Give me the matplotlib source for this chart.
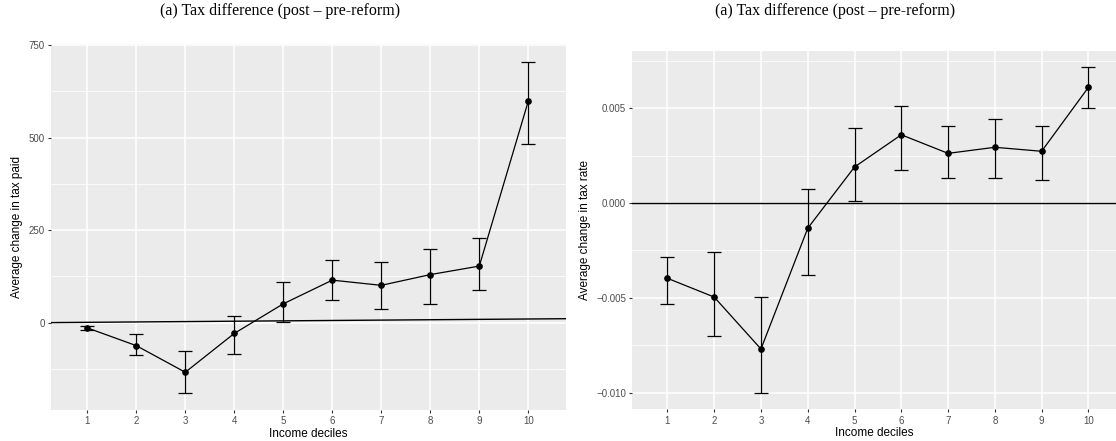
import numpy as np
import matplotlib
matplotlib.use('Agg')
import matplotlib.pyplot as plt
from matplotlib.ticker import MultipleLocator

deciles = [1, 2, 3, 4, 5, 6, 7, 8, 9, 10]

# panel 1: average change in tax paid
paid_mean = [-14, -62, -134, -29, 51, 115, 101, 130, 153, 599]
paid_lo = [-19, -87, -190, -84, 1, 60, 38, 51, 89, 482]
paid_hi = [-9, -30, -76, 19, 109, 169, 163, 200, 229, 706]

# panel 2: average change in tax rate
rate_mean = [-0.00397, -0.00496, -0.0077, -0.00133, 0.0019, 0.0036, 0.00262, 0.00294, 0.00273, 0.0061]
rate_lo = [-0.00534, -0.0070, -0.01004, -0.0038, 0.00009, 0.00172, 0.0013, 0.00133, 0.0012, 0.005]
rate_hi = [-0.00283, -0.00257, -0.00496, 0.00072, 0.00394, 0.00512, 0.00408, 0.00445, 0.00408, 0.00717]

title = "(a) Tax difference (post \u2013 pre-reform)"

fig = plt.figure(figsize=(11.16, 4.41), dpi=100)
ax1 = fig.add_axes([0.0457, 0.0703, 0.4615, 0.8288])
ax2 = fig.add_axes([0.5666, 0.0719, 0.4334, 0.8125])


def style(ax, major, minor):
    ax.set_facecolor('#EBEBEB')
    for s in ax.spines.values():
        s.set_visible(False)
    ax.yaxis.set_major_locator(MultipleLocator(major))
    ax.yaxis.set_minor_locator(MultipleLocator(minor))
    ax.set_xticks(deciles)
    ax.grid(which='major', color='white', linewidth=1.1, zorder=0)
    ax.grid(which='minor', axis='y', color='white', linewidth=0.55, zorder=0)
    ax.set_axisbelow(True)
    ax.tick_params(axis='both', which='major', length=2.5, width=0.8, color='#333333',
                   labelsize=7, labelcolor='#4D4D4D', pad=2,
                   labelfontfamily='Liberation Sans')
    ax.tick_params(axis='both', which='minor', length=0)
    ax.set_xlabel("Income deciles", fontsize=8.5, family='Liberation Sans', labelpad=1)


def draw(ax, mean, lo, hi):
    m = np.array(mean)
    yerr = [m - np.array(lo), np.array(hi) - m]
    ax.errorbar(deciles, mean, yerr=yerr, color='black', linewidth=0.9,
                elinewidth=0.9, capsize=5, capthick=0.9, marker='o',
                markersize=3.8, zorder=3)


# left panel
style(ax1, 250, 125)
draw(ax1, paid_mean, paid_lo, paid_hi)
ax1.set_xlim(0.26, 10.77)
ax1.set_ylim(-236, 752)
xx = np.array(ax1.get_xlim())
ax1.plot(xx, xx, color='black', linewidth=1.0, zorder=2)  # abline y = x
ax1.set_yticks([0, 250, 500, 750])
ax1.set_ylabel("Average change in tax paid", fontsize=8.5, family='Liberation Sans', labelpad=4)
fig.text(0.251, 0.975, title, ha='center', va='center', fontsize=11.5, family='Liberation Serif')

# right panel
style(ax2, 0.005, 0.0025)
draw(ax2, rate_mean, rate_lo, rate_hi)
ax2.set_xlim(0.25, 10.59)
ax2.set_ylim(-0.01088, 0.00802)
ax2.axhline(0, color='black', linewidth=1.0, zorder=2)
ax2.set_yticks([-0.010, -0.005, 0.0, 0.005])
ax2.set_yticklabels(["\u22120.010", "\u22120.005", "0.000", "0.005"])
ax2.set_ylabel("Average change in tax rate", fontsize=8.5, family='Liberation Sans', labelpad=4)
fig.text(0.748, 0.975, title, ha='center', va='center', fontsize=11.5, family='Liberation Serif')

fig.savefig('out.png', dpi=100)
